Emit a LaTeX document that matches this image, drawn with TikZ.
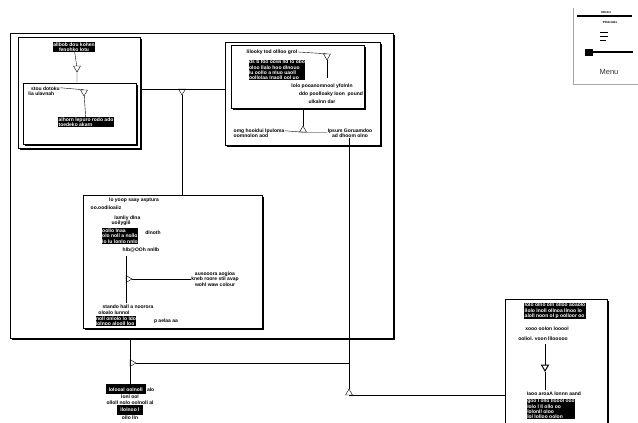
\documentclass[tikz,border=0pt]{standalone}
\usepackage{fontspec}
\setmainfont{Liberation Sans}
\usetikzlibrary{shapes.geometric,shadows}

\tikzset{
  panel/.style={draw,line width=0.8pt,fill=white,inner sep=0pt,drop shadow={shadow xshift=2pt,shadow yshift=-2pt,fill=black,opacity=1}},
  tri/.style={draw,fill=white,regular polygon,regular polygon sides=3,minimum size=8pt,inner sep=0pt},
  txt/.style={font=\fontsize{5}{5.4}\selectfont\bfseries,inner sep=0.5pt,align=left},
  blk/.style={txt,fill=black,text=white},
}

\begin{document}
\begin{tikzpicture}[x=1pt,y=-1pt]
\useasboundingbox (0,0) rectangle (638,423);

% frames
\node [panel,minimum width=383pt,minimum height=305pt] (outer) at (201.5,185.5) {};
\node [panel,minimum width=122pt,minimum height=111pt] (tlbox) at (79,92.5) {};
\node [panel,minimum width=113pt,minimum height=61pt] (tlin) at (79.5,113.5) {};
\node [panel,minimum width=155pt,minimum height=103pt] (urbox) at (302.5,93.5) {};
\node [panel,minimum width=133pt,minimum height=63pt] (urin) at (297.5,76.5) {};
\node [panel,minimum width=179pt,minimum height=133pt] (mid) at (172.5,261.5) {};
\node [panel,minimum width=102pt,minimum height=141pt] (brbox) at (556,369.5) {};

% top left box
\node [blk,align=center] (tlhead) at (74,47) {allbob dou kohen\\fenohko lotu};
\node [tri,shape border rotate=180] (tl1) at (77,68) {};
\draw (tlhead) -- (tl1) -- (tl1 |- tlin.north);
\node [txt] (tlsub) at (44,91) {\ \ stou dotoku\\lia ulavnah};
\node [tri,shape border rotate=180] (tl2) at (84,92) {};
\draw (tlsub.north east) ++(0,2) -- (tl2.north);
\node [blk] (tlbody) at (86,122) {alhorn lepuro rodo ado\\toedeko akarn};
\draw (tl2) -- (tlbody);

% link to the right box
\node [tri,shape border rotate=180] (j1) at (182,91) {};
\draw (tlbox.east |- 0,89) -- (urbox.west |- 0,89);
\draw (j1) -- (j1 |- mid.north);

% upper right box
\node [txt] (urhead) at (272,52) {lilooky tod ollloo grol};
\node [tri,shape border rotate=180] (ur1) at (327,56) {};
\draw (urhead.east) -- (ur1.north);
\node [blk] (urbody) at (277,70) {ds b foo oowi lld lo obo\\oloo llalo hoo dlnouo\\ lu oollo a nluo uaoll\\oollolaa lnaoll ool uo};
\draw (ur1) -- (327,78);
\node [txt] (url1) at (322,86) {lolo pooanomnool yfolnln};
\node [txt] (url2) at (331,94) {ddo poolloaky loon \ pound};
\node [txt] (url3) at (322,102) {ulkalnn dar};
\node [tri] (j2) at (303,130) {};
\draw (j2 |- urin.south) -- (j2);
\node [txt] (urleft) at (259,133) {omg hooidui lpuloma\\oomnolon aod};
\node [txt,align=center] (urright) at (350,133) {Ipsum Goruamdoo\\ad dhoom olno};
\draw (urleft.north east) ++(0,3) -- (j2.south) -- (urright.north west |- j2.south);

% middle box
\node [txt] (mhead) at (134,200) {lo yoop saay asptura};
\node [txt] (msub) at (106,208) {oo.oodiioaiiz};
\node [txt] (mblk1) at (126,221) {\ \ lamliy dlna\\uoilyglil};
\node [blk] (mblk2) at (120,236) {oollo lnaa\\olo noll a nollo\\lo lu lonlo nnlo};
\node [txt] (mblk3) at (153,233) {dlnoth};
\node [txt] (mblk4) at (141,250) {hlb@OOh nnllb};
\node [tri,shape border rotate=-90] (mtri) at (128,279) {};
\draw (126,256) -- (126,303);
\node [txt,align=center] (mright) at (215,279) {ausooora aogioa\\kneb roore stil avap\\wohl waw colour};
\draw (mtri) -- (mright.west);
\node [txt] (mbot1) at (128,307) {stando hall a noorora};
\node [txt] (mbot2) at (114,313) {oloalo lunnol};
\node [blk] (mbot3) at (116,321) {noll onlolo lo ldo\\lolnoo alooll loo};
\node [txt] (mbot4) at (166,321) {p aelaa aa};

% bottom left junction
\node [tri,shape border rotate=-90] (j3) at (132,363) {};
\node [txt,align=center] (bltxt) at (130,402) {\colorbox{black}{\color{white}lolooal oolnoll} alo\\lonl ool\\olloll nolo oolnoll al\\\colorbox{black}{\color{white}llolnoo l}\\ollo lln};
\draw (130,338) -- (bltxt.north -| 130,0);
\coordinate (j4) at (349,363);
\draw (j3) -- (j4);

% long link down to the lower right box
\node [tri] (j5) at (349,393) {};
\draw (urright.south -| 349,0) -- (j5);
\draw (j5.south) -- (brbox.west |- j5.south);

% lower right box
\node [blk] (brhead) at (555,311) {lolo olno oln olloo aoaolo\\llolo lnoll ollnoa llnoo lo\\aloll noon ol p oolloor oo};
\node [txt] (br1) at (547,329) {xooo oolon looool};
\node [txt] (br2) at (543,339) {ooliol. voon lllooooo};
\node [tri,shape border rotate=180,line width=1pt] (brtri) at (545,367) {};
\draw (545,344) -- (brtri) -- (545,390);
\node [txt] (br3) at (554,394) {Iaoo aroaA lonnn aand};
\node [blk] (br4) at (551,409) {goo l ollo lloool ooo\\lolo l ll ollo oo\\lolonll oloo\\lol lolloo oolon};

% menu
\draw [gray!70] (573,8) -- (573,84) -- (638,84);
\draw [line width=1.2pt] (577,16) -- (632,16);
\node [txt,font=\fontsize{3}{3}\selectfont\bfseries] (mn0) at (606,12) {Nthdxt};
\node [txt,font=\fontsize{3}{3}\selectfont\bfseries] (mn1) at (610,22.5) {PIIIdxtddx};
\draw [line width=1pt] (600,32) -- (608,32) (600,36) -- (608,36) (600,40) -- (606,40);
\fill (585,49) rectangle (593,56);
\draw [line width=1.3pt] (590,52) -- (633,52);
\node [font=\fontsize{7.5}{8}\selectfont,inner sep=0pt,text=black!80] (mnlabel) at (609,72) {Menu};
\end{tikzpicture}
\end{document}
